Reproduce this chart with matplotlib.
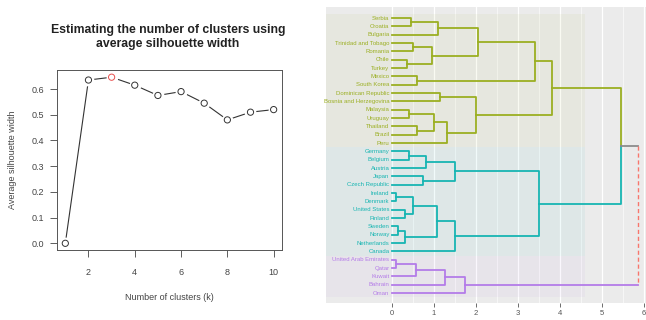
import numpy as np
import matplotlib.pyplot as plt

plt.rcParams['font.family'] = ['Liberation Sans', 'DejaVu Sans']

# silhouette data -------------------------------------------------------------#
k_values = [1, 2, 3, 4, 5, 6, 7, 8, 9, 10]
sil_width = [0.0, 0.635, 0.646, 0.615, 0.575, 0.59, 0.545, 0.48, 0.51, 0.52]
best_k = 3

# dendrogram data (leaves top to bottom) --------------------------------------#
leaves = ["Serbia", "Croatia", "Bulgaria", "Trinidad and Tobago", "Romania",
          "Chile", "Turkey", "Mexico", "South Korea", "Dominican Republic",
          "Bosnia and Herzegovina", "Malaysia", "Uruguay", "Thailand", "Brazil",
          "Peru",
          "Germany", "Belgium", "Austria", "Japan", "Czech Republic", "Ireland",
          "Denmark", "United States", "Finland", "Sweden", "Norway",
          "Netherlands", "Canada",
          "United Arab Emirates", "Qatar", "Kuwait", "Bahrain", "Oman"]
groups = [1] * 16 + [2] * 13 + [3] * 5
group_cols = {1: '#9BAF22', 2: '#17B5B2', 3: '#B47CE8'}

# merges, hclust style: negative = leaf number, positive = earlier merge row
merge_a = [-1, 1, -4, -6, 3, 2, -8, 6, -10, -12, -14, 10, 12, 9, 8,
           -17, 16, -20, 17, -22, -24, 20, -26, 23, 22, 25, 19,
           -30, 28, 29, 30, 15, 32]
merge_b = [-2, -3, -5, -7, 4, 5, -9, 7, -11, -13, -15, 11, -16, 13, 14,
           -18, -19, -21, 18, -23, -25, 21, -27, -28, 24, -29, 26,
           -31, -32, -33, -34, 27, 31]
heights = [0.45, 1.10, 0.50, 0.35, 0.95, 2.05, 0.60, 3.40, 1.15, 0.40, 0.60,
           1.00, 1.30, 2.00, 3.80,
           0.40, 0.80, 0.75, 1.50, 0.10, 0.30, 0.50, 0.15, 0.30, 1.07, 1.50,
           3.50,
           0.10, 0.57, 1.27, 1.75, 5.45, 5.85]

fig = plt.figure(figsize=(6.46, 3.2), dpi=100)

# silhouette plot -------------------------------------------------------------#
ax1 = fig.add_axes([0.0882, 0.21875, 0.3483, 0.5625])
ax1.plot(k_values, sil_width, color='#333333', lw=0.8)
ax1.plot(k_values, sil_width, ls='none', marker='o', ms=7.5, mfc='white', mec='white')
pt_cols = ['#E8504F' if kk == best_k else '#333333' for kk in k_values]
ax1.scatter(k_values, sil_width, s=20, facecolors='none', edgecolors=pt_cols,
            linewidths=0.7, zorder=3)
ax1.set_xlim(0.64, 10.36)
ax1.set_ylim(-0.026, 0.674)
ax1.set_xticks([2, 4, 6, 8, 10])
ax1.set_yticks([0.0, 0.1, 0.2, 0.3, 0.4, 0.5, 0.6])
ax1.set_yticklabels(['0.0', '0.1', '0.2', '0.3', '0.4', '0.5', '0.6'])
ax1.tick_params(direction='out', length=5, width=0.6, colors='#444444',
                labelsize=6.5)
ax1.tick_params(axis='x', pad=8)
ax1.tick_params(axis='y', pad=4)
for sp in ax1.spines.values():
    sp.set_color('#555555')
    sp.set_linewidth(0.7)
fig.text(0.26, 0.884, 'Estimating the number of clusters using\naverage silhouette width',
         ha='center', va='center', fontweight='bold', fontsize=8.8,
         linespacing=1.25, color='#222222')
fig.text(0.2624, 0.069, 'Number of clusters (k)', ha='center', va='center',
         fontsize=6.5, color='#444444')
fig.text(0.0186, 0.5, 'Average silhouette width', ha='center', va='center',
         rotation=90, fontsize=6.5, color='#444444')

# dendrogram ------------------------------------------------------------------#
ax2 = fig.add_axes([0.5046, 0.0531, 0.4954, 0.925])
ax2.set_facecolor('#EBEBEB')
for sp in ax2.spines.values():
    sp.set_visible(False)
ax2.set_xlim(-1.57, 6.05)
ax2.set_ylim(len(leaves) + 1.2, -0.32)
ax2.set_xticks(range(7))
ax2.set_xticks(np.arange(0.5, 6, 1), minor=True)
ax2.set_yticks([])
ax2.tick_params(axis='x', which='major', length=3, width=0.6, colors='#555555',
                labelsize=5.5, pad=2)
ax2.tick_params(axis='x', which='minor', length=0)
ax2.set_axisbelow(True)
ax2.grid(axis='x', which='major', color='white', lw=0.9)
ax2.grid(axis='x', which='minor', color='white', lw=0.4)

# faint cluster boxes
for g, c in group_cols.items():
    idx = [i + 1 for i, gg in enumerate(groups) if gg == g]
    ax2.fill_between([-1.57, 4.6], min(idx) - 0.5, max(idx) + 0.5,
                     color=c, alpha=0.06, lw=0, zorder=1)

nx, ny, ngrp = [], [], []


def info(i):
    if i < 0:
        return 0.0, float(-i), groups[-i - 1]
    return nx[i - 1], ny[i - 1], ngrp[i - 1]


for row, (a, b, h) in enumerate(zip(merge_a, merge_b, heights)):
    xa, ya, ga = info(a)
    xb, yb, gb = info(b)
    ym = (ya + yb) / 2
    last = row == len(heights) - 1
    for xc, yc, gc in ((xa, ya, ga), (xb, yb, gb)):
        c = group_cols.get(gc, '#8C8C8C')
        if last:
            ax2.plot([xc, h], [yc, yc], color=c, lw=1.3, zorder=3)
        else:
            ax2.plot([xc, h, h], [yc, yc, ym], color=c, lw=1.3, zorder=3)
    if last:
        ax2.plot([h, h], [ya, yb], color='#F8766D', lw=1.0, ls=(0, (3, 2)), zorder=3)
    nx.append(h)
    ny.append(ym)
    ngrp.append(ga if ga == gb else 0)

for i, (name, g) in enumerate(zip(leaves, groups)):
    ax2.text(-0.06, i + 1, name, ha='right', va='center', fontsize=4.3,
             color=group_cols[g], zorder=4)

fig.savefig('out.png', dpi=100)
